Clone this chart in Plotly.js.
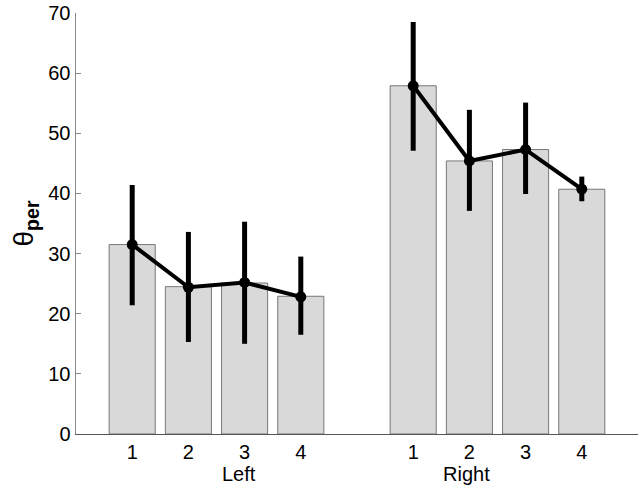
<!DOCTYPE html>
<html><head><meta charset="utf-8">
<script src="https://cdn.plot.ly/plotly-3.0.1.min.js"></script>
<style>body{margin:0;background:#fff}#chart{width:643px;height:489px}</style>
</head><body><div id="chart"></div>
<script>
// positions of the eight conditions on the x axis (Left 1-4, Right 1-4)
const xPos = [1, 2, 3, 4, 6, 7, 8, 9];
const tickLabels = ['1', '2', '3', '4', '1', '2', '3', '4'];
const groupLabels = ['Left', 'Right'];
const groupLabelX = [2.9, 6.95];
// bar heights
const barValues = [31.5, 24.5, 25.1, 22.9, 57.9, 45.4, 47.3, 40.7];
// line means and error extents
const meanValues = [31.5, 24.4, 25.2, 22.8, 57.9, 45.4, 47.3, 40.7];
const errUpper = [9.9, 9.2, 10.1, 6.7, 10.6, 8.5, 7.8, 2.1];
const errLower = [10.1, 9.1, 10.2, 6.3, 10.8, 8.3, 7.4, 2.0];

const lineX = xPos.slice(0, 4).concat([null]).concat(xPos.slice(4));
const lineY = meanValues.slice(0, 4).concat([null]).concat(meanValues.slice(4));
const lineEU = errUpper.slice(0, 4).concat([0]).concat(errUpper.slice(4));
const lineEL = errLower.slice(0, 4).concat([0]).concat(errLower.slice(4));

const traces = [
  {
    type: 'bar', x: xPos, y: barValues, width: 0.82,
    marker: {color: '#d9d9d9', line: {color: '#777', width: 1}},
    hoverinfo: 'none'
  },
  {
    type: 'scatter', mode: 'lines+markers', x: lineX, y: lineY,
    connectgaps: false,
    line: {color: '#000', width: 4},
    marker: {color: '#000', size: 11},
    error_y: {type: 'data', symmetric: false, array: lineEU, arrayminus: lineEL,
      color: '#000', thickness: 5, width: 0},
    hoverinfo: 'none'
  }
];

const layout = {
  width: 643, height: 489,
  margin: {l: 76, r: 5, t: 13, b: 55},
  paper_bgcolor: '#fff', plot_bgcolor: '#fff',
  showlegend: false,
  font: {family: 'Liberation Sans', color: '#000', size: 20},
  xaxis: {
    range: [0, 10], tickvals: xPos, ticktext: tickLabels,
    showgrid: false, zeroline: false, showline: true, linecolor: '#555', linewidth: 1,
    ticks: '', tickfont: {family: 'Liberation Sans', size: 20}, fixedrange: true
  },
  yaxis: {
    range: [0, 70], tickvals: [0, 10, 20, 30, 40, 50, 60, 70],
    showgrid: false, zeroline: false, showline: true, linecolor: '#8a8a8a', linewidth: 1.5,
    ticks: 'inside', ticklen: 5, tickcolor: '#8a8a8a', tickfont: {family: 'Liberation Sans', size: 20},
    title: {text: 'θ<sub><b>per</b></sub>', font: {family: 'Liberation Sans', size: 28}, standoff: 6},
    fixedrange: true
  },
  annotations: groupLabels.map((t, i) => ({
    x: groupLabelX[i], y: 0, xref: 'x', yref: 'y', text: t, showarrow: false,
    yanchor: 'top', yshift: -27, font: {family: 'Liberation Sans', size: 20}
  })),
  bargap: 0
};
Plotly.newPlot('chart', traces, layout, {displayModeBar: false, staticPlot: true});
</script></body></html>
